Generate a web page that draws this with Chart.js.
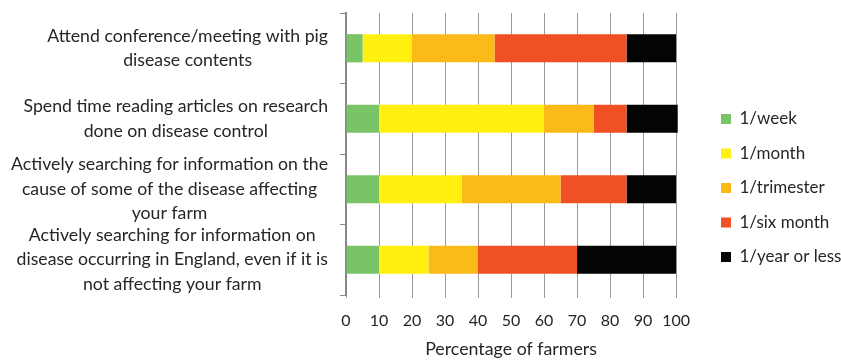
<!DOCTYPE html>
<html>
<head>
<meta charset="utf-8">
<script src="https://cdn.jsdelivr.net/npm/chart.js@4.4.1/dist/chart.umd.min.js"></script>
<style>
  html, body { margin: 0; padding: 0; background: #ffffff; }
  #wrap { width: 841px; height: 360px; position: relative; }
</style>
</head>
<body>
<div id="wrap"><canvas id="chart"></canvas></div>
<script>
// Survey activities (multi-line labels)
const categories = [
  ["Attend conference/meeting with pig", "disease contents"],
  ["Spend time reading articles on research", "done on disease control"],
  ["Actively searching for information on the", "cause of some of the disease affecting", "your farm"],
  ["Actively searching for information on", "disease occurring in England, even if it is", "not affecting your farm"]
];

// Frequency groups, percentage of farmers per activity
const weekly     = [5, 10, 10, 10];
const monthly    = [15, 50, 25, 15];
const trimester  = [25, 15, 30, 15];
const sixMonth   = [40, 10, 20, 30];
const yearOrLess = [15, 15.5, 15, 30];

const seriesNames = ["1/week", "1/month", "1/trimester", "1/six month", "1/year or less"];
const seriesColors = ["#78c466", "#fff00f", "#fcba19", "#f05023", "#030404"];
const xTicks = [0, 10, 20, 30, 40, 50, 60, 70, 80, 90, 100];

const FONT = "Lato, 'Open Sans', sans-serif";
const TEXT = "#262626";
const CAT_FONT_SIZE = 17.7;
const CAT_LINE_H = 24.5;
const CAT_GAP = 18;

// Legend column placed to the right of the plot
const legendPlace = {
  id: "legendPlace",
  afterLayout(chart) {
    const lg = chart.legend;
    const pad = lg.options.labels.padding;
    const w = lg.width, h = lg.height;
    lg.left = 721 - pad;
    lg.right = lg.left + w;
    lg.top = 119 - pad - 8.5;
    lg.bottom = lg.top + h;
  }
};

// Category labels: each wrapped block sits flush against the axis,
// with its lines centred inside the block
const categoryLabels = {
  id: "categoryLabels",
  afterDraw(chart) {
    const ys = chart.scales.y;
    const ctx = chart.ctx;
    ctx.save();
    ctx.font = CAT_FONT_SIZE + "px " + FONT;
    ctx.fillStyle = TEXT;
    ctx.textAlign = "center";
    ctx.textBaseline = "middle";
    const right = ys.right - CAT_GAP;
    categories.forEach((lines, i) => {
      const yc = ys.getPixelForTick(i);
      const w = Math.max(...lines.map(l => ctx.measureText(l).width));
      const xc = right - w / 2;
      lines.forEach((l, k) => {
        ctx.fillText(l, xc, yc + (k - (lines.length - 1) / 2) * CAT_LINE_H);
      });
    });
    ctx.restore();
  }
};

const values = [weekly, monthly, trimester, sixMonth, yearOrLess];

new Chart(document.getElementById("chart"), {
  type: "bar",
  data: {
    labels: categories,
    datasets: seriesNames.map((name, i) => ({
      label: name,
      data: values[i],
      backgroundColor: seriesColors[i],
      borderWidth: 0,
      barPercentage: 0.4,
      categoryPercentage: 1.0,
      clip: 4
    }))
  },
  options: {
    indexAxis: "y",
    responsive: true,
    maintainAspectRatio: false,
    animation: false,
    layout: { padding: { top: 13, right: 17, bottom: 0, left: 0 } },
    plugins: {
      tooltip: { enabled: false },
      legend: {
        position: "right",
        align: "start",
        labels: {
          font: { family: FONT, size: 17 },
          color: TEXT,
          boxWidth: 10,
          boxHeight: 10,
          padding: 17.5
        }
      }
    },
    scales: {
      x: {
        stacked: true,
        min: 0,
        max: 100,
        afterBuildTicks(axis) { axis.ticks = xTicks.map(v => ({ value: v })); },
        afterFit(axis) { axis.height = 65; },
        grid: { color: "#9a9a9a", lineWidth: 1, tickLength: 3 },
        border: { display: false },
        ticks: { font: { family: FONT, size: 16 }, color: TEXT, padding: 13, maxRotation: 0 },
        title: {
          display: true,
          text: "Percentage of farmers",
          font: { family: FONT, size: 17.8 },
          color: TEXT,
          padding: { top: 9, bottom: 0 }
        }
      },
      y: {
        stacked: true,
        offset: true,
        afterFit(axis) {
          axis.width = 346;
          axis.paddingTop = 0;
          axis.paddingBottom = 0;
        },
        grid: { offset: true, drawOnChartArea: false, tickLength: 6, color: "#888888", lineWidth: 1 },
        border: { display: true, color: "#888888", width: 2 },
        ticks: { display: false, autoSkip: false }
      }
    }
  },
  plugins: [legendPlace, categoryLabels]
});
</script>
</body>
</html>
